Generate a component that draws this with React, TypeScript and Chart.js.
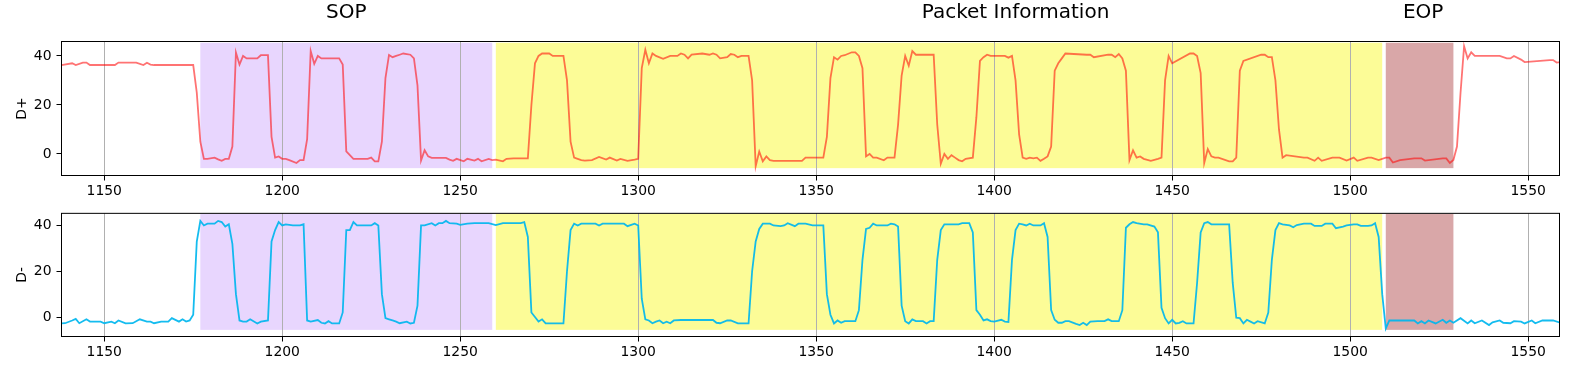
import React, { useEffect, useRef } from "react";
import { Chart, registerables } from "chart.js";
Chart.register(...registerables);

// ---- data ----
const dPlusX = [1138,1141,1142,1144,1145,1146,1153,1154,1159,1161,1162,1163,1164,1175,1176,1177,1178,1179,1181,1182,1183,1184,1185,1186,1187,1188,1189,1190,1193,1194,1196,1197,1198,1199,1200,1201,1202,1204,1205,1206,1207,1208,1209,1210,1211,1216,1217,1218,1219,1220,1224,1225,1226,1227,1228,1229,1230,1231,1232,1233,1234,1236,1237,1238,1239,1240,1241,1242,1246,1247,1248,1249,1251,1252,1254,1255,1256,1258,1259,1260,1262,1263,1265,1269,1270,1271,1272,1273,1275,1276,1279,1280,1281,1282,1283,1284,1285,1287,1289,1291,1292,1294,1295,1297,1299,1300,1301,1302,1303,1304,1305,1307,1309,1311,1312,1313,1314,1315,1318,1320,1321,1322,1323,1325,1326,1327,1328,1329,1331,1332,1333,1334,1335,1336,1337,1338,1346,1347,1352,1353,1354,1355,1356,1357,1358,1360,1361,1362,1363,1364,1365,1366,1367,1369,1370,1372,1373,1374,1375,1376,1377,1378,1383,1384,1385,1386,1387,1388,1389,1390,1391,1392,1394,1395,1396,1397,1398,1399,1403,1404,1405,1406,1407,1408,1409,1410,1411,1412,1413,1414,1415,1416,1417,1418,1419,1420,1426,1427,1428,1432,1433,1434,1435,1436,1437,1438,1439,1440,1441,1442,1444,1446,1447,1448,1449,1450,1455,1456,1457,1458,1459,1460,1461,1462,1463,1466,1467,1468,1469,1470,1475,1476,1477,1478,1479,1480,1481,1482,1487,1488,1490,1491,1492,1495,1497,1499,1501,1502,1505,1506,1508,1510,1511,1512,1514,1518,1520,1521,1526,1527,1528,1529,1530,1531,1532,1533,1534,1535,1541,1542,1544,1545,1546,1548,1549,1556,1557,1558,1559];
const dPlusY = [36.3,37,36.3,37.3,37.3,36.3,36.3,37.3,37.3,36.3,37.2,36.5,36.3,36.3,25,5,-2,-2,-1.5,-2.2,-2.8,-2,-2,3,41.4,36.5,40,39,39,40.3,40.3,7,-1.5,-1,-2,-2,-2.5,-3.7,-2.5,-2.5,6,42,36.8,40,39,39,36.5,1,-0.5,-2,-2,-1.5,-3,-3,5,31,40.4,39.5,40,40.5,41,40.5,39,28,-2.7,1.5,-1,-1.6,-1.6,-2.3,-2.8,-2,-3,-2,-2.7,-2,-3,-2,-2.5,-2.3,-3,-2,-1.8,-1.8,20,37,40,41,41,40,40,30,5,-1.5,-2,-2.5,-2.7,-2.5,-1.2,-2.3,-1.5,-2.7,-2,-2.8,-2.3,-2,35,42.5,37,41,40,38.8,40,40,41,40.5,39,40.5,41,40.5,41,40.5,39,39.5,40.8,40.5,39.5,40,40,30,-5,1,-3,-1,-2.5,-2.8,-2.8,-1.5,-1.5,7,31,39.5,38.5,40,40.3,41.5,41.5,40,35,-1,0,-1.5,-1.5,-2.6,-1.5,-1.5,12,32,40,36,42,40.5,40.5,12,-4,0,-2,-0.5,-1.5,-2.5,-3,-2,-1.5,15,38,39.5,40.5,40,40,39.3,40,30,8,-1.5,-2,-1.5,-1.8,-1.5,-2.8,-2,-1,3,34,37,39,41,40.5,40.5,39.5,40.5,40.5,39.5,40.8,39,34,-2.5,1.5,-1.5,-1,-2,-2.8,-2,-1.5,30,40,37,41,41,40,33,-3.7,2,-1,-1.5,-1.5,-3,-3,-1.5,34,38,40.5,40.5,39.5,39.5,30,10,-1.5,-0.5,-1.5,-1.5,-2.8,-1.5,-2.8,-1.5,-1.5,-2.7,-1.5,-2.8,-1.5,-1.5,-2.5,-1.5,-1.5,-3.5,-2.5,-1.8,-1.8,-2.7,-1.8,-1.8,-3.7,-2.5,3,25,44,39,41.5,40,40,40,39,39,40,38.5,37.5,38.3,38.3,37.3,37.5,38];

const dMinusX = [1138,1139,1141,1142,1143,1145,1146,1149,1150,1152,1153,1154,1156,1158,1160,1162,1163,1164,1166,1168,1169,1171,1172,1173,1174,1175,1176,1177,1178,1179,1181,1182,1183,1184,1185,1186,1187,1188,1189,1190,1191,1193,1194,1196,1197,1198,1199,1200,1201,1203,1205,1206,1207,1208,1210,1211,1212,1213,1214,1216,1217,1218,1219,1220,1221,1225,1226,1227,1228,1229,1230,1231,1232,1233,1235,1236,1237,1238,1239,1240,1242,1243,1244,1245,1246,1247,1249,1250,1252,1254,1258,1260,1262,1267,1268,1269,1270,1271,1272,1273,1274,1279,1280,1281,1282,1283,1284,1288,1289,1290,1296,1297,1299,1300,1301,1302,1303,1304,1305,1306,1307,1308,1309,1310,1312,1321,1322,1323,1325,1326,1328,1331,1332,1333,1334,1335,1337,1338,1340,1341,1342,1344,1345,1347,1349,1352,1353,1354,1355,1356,1357,1358,1361,1362,1363,1364,1365,1366,1367,1370,1371,1372,1373,1374,1375,1376,1377,1378,1380,1381,1382,1383,1384,1385,1386,1390,1391,1393,1394,1395,1396,1397,1398,1399,1400,1402,1403,1404,1405,1406,1407,1408,1409,1410,1411,1413,1414,1415,1416,1417,1418,1419,1420,1421,1423,1424,1425,1426,1427,1429,1431,1432,1433,1435,1436,1437,1438,1439,1440,1442,1443,1445,1446,1447,1448,1449,1450,1451,1452,1453,1454,1456,1457,1458,1459,1460,1461,1466,1467,1468,1469,1470,1471,1472,1473,1474,1476,1477,1478,1479,1480,1481,1483,1484,1485,1487,1489,1490,1492,1493,1495,1496,1498,1499,1501,1502,1503,1505,1506,1507,1508,1509,1510,1511,1518,1519,1520,1521,1522,1524,1526,1527,1528,1529,1531,1533,1534,1535,1537,1539,1540,1542,1543,1545,1546,1548,1549,1551,1552,1554,1557,1559];
const dMinusY = [-2.8,-2.7,-1.5,-0.8,-2.7,-1,-2,-2,-2.7,-2,-2.7,-1.5,-2.8,-2.7,-1,-2,-2,-2.7,-2,-2,-0.5,-2,-1,-2,-1.5,1,33,42,40,40.8,40.8,42,41.5,39.5,40.5,32,10,-1.5,-2,-2,-1,-2.8,-2,-1.5,33,38,41.5,40,40.5,40,40,40.5,-1.5,-2,-1.3,-2.5,-2.8,-1.8,-2.8,-2.8,2,38,38,41.5,40,40,41,40,10,-0.5,-1,-1.5,-2,-2.7,-2,-2.8,-2.5,5,40,40,41,40,41,41,42,41,40.8,40.3,40.8,41,41,40.2,41,41,41.5,35,2,0,-2,-1,-2.8,-2.8,20,38,40.8,40,40.8,40.8,40,40.8,40.8,39.7,40.8,40,8,-1,-1.5,-2.7,-2,-1.5,-2.7,-2,-2.7,-1.5,-1.3,-1.3,-2.5,-2.7,-1.5,-1.5,-2.8,-2.8,20,33,38.5,40.8,40.8,40,39.7,40,41,39.7,40.8,40.8,40,40,10,1,-2.8,-1.5,-2.5,-1.8,-1.8,3,25,38.5,39,40.8,40,40,40.8,40.5,39.5,5,-1.8,-2.8,-1,-1.8,-1.8,-2.8,-1.8,-1.8,25,38,40.5,40.5,41,41,37,3,1,-1.5,-1,-1.8,-2,-1.2,-2,-2.2,25,38,40.8,40.5,40,40.8,40,40,41,35,3,-1.2,-2.5,-2.5,-1.8,-1.8,-3,-3.5,-2.5,-3.5,-2,-1.8,-1.8,-1,-1.8,-1.8,3,39,40.5,41.5,41,40.5,40.5,39.5,37,4,-0.5,-2.8,-1.2,-2.8,-2.5,-1.8,-2.8,-2.8,15,37,41,41.5,40.5,40.5,15,-0.3,-0.5,-2.8,-1.2,-2,-2.8,-1.8,-2.8,2,25,38,41,40.5,40,39.2,40.2,40.8,40.8,39.8,39.8,40.8,40.8,38.8,39.5,40,40.5,40.5,39.8,39.8,40,41,35,10,-5,-1.5,-1.5,-2.8,-1.8,-2.8,-1.5,-2.8,-1.2,-2.5,-1.5,-2.5,-0.5,-2.8,-1.5,-2.7,-1.5,-3.5,-2.3,-1.5,-2.5,-2.7,-1.8,-2,-2.8,-1.5,-2.7,-1.5,-1.5,-2.5];

const xTicks = [1150, 1200, 1250, 1300, 1350, 1400, 1450, 1500, 1550];
const yTicks = [0, 20, 40];
const regionLabels = ["SOP", "Packet Information", "EOP"];
const regionStart = [1177, 1260, 1510];
const regionEnd = [1259, 1509, 1529];
const regionColors = ["#E8D6FE", "#FCFC97", "#D9A7A8"];
const titleX = [1218, 1406, 1520.5];

const X_MIN = 1138;
const X_MAX = 1558.8;
const FONT = "'DejaVu Sans', sans-serif";

type PanelProps = {
  xs: number[];
  ys: number[];
  color: string;
  label: string;
  yMin: number;
  yMax: number;
  fillMin: number;
  fillMax: number;
  top: number;
  height: number;
  padTop: number;
  xAxisH: number;
  showTitles: boolean;
};

function Panel(p: PanelProps) {
  const ref = useRef<HTMLCanvasElement>(null);
  useEffect(() => {
    const decor = {
      id: "decor",
      beforeDraw(chart: any) {
        const { ctx, scales } = chart;
        const xs = scales.x, ys = scales.y;
        ctx.save();
        for (let i = 0; i < regionStart.length; i++) {
          const x0 = xs.getPixelForValue(regionStart[i]);
          const x1 = xs.getPixelForValue(regionEnd[i]);
          const y0 = ys.getPixelForValue(p.fillMax);
          const y1 = ys.getPixelForValue(p.fillMin);
          ctx.fillStyle = regionColors[i];
          ctx.fillRect(x0, y0, x1 - x0, y1 - y0);
        }
        ctx.restore();
      },
      afterDraw(chart: any) {
        const { ctx, chartArea, scales } = chart;
        ctx.save();
        ctx.strokeStyle = "#000";
        ctx.lineWidth = 1;
        ctx.strokeRect(chartArea.left, chartArea.top, chartArea.right - chartArea.left, chartArea.bottom - chartArea.top);
        // y label
        ctx.fillStyle = "#000";
        ctx.font = `13.9px ${FONT}`;
        ctx.translate(22, (chartArea.top + chartArea.bottom) / 2);
        ctx.rotate(-Math.PI / 2);
        ctx.textAlign = "center";
        ctx.textBaseline = "middle";
        ctx.fillText(p.label, 0, 0);
        ctx.restore();
        if (p.showTitles) {
          ctx.save();
          ctx.fillStyle = "#000";
          ctx.font = `20px ${FONT}`;
          ctx.textAlign = "center";
          ctx.textBaseline = "alphabetic";
          for (let i = 0; i < regionLabels.length; i++) {
            ctx.fillText(regionLabels[i], scales.x.getPixelForValue(titleX[i]), 17.5);
          }
          ctx.restore();
        }
      },
    };
    const chart = new Chart(ref.current as HTMLCanvasElement, {
      type: "line",
      data: {
        datasets: [
          {
            data: p.xs.map((x, i) => ({ x, y: p.ys[i] })),
            borderColor: p.color,
            borderWidth: 1.8,
            pointRadius: 0,
            tension: 0,
            fill: false,
          },
        ],
      },
      options: {
        animation: false,
        responsive: false,
        maintainAspectRatio: false,
        devicePixelRatio: 1,
        events: [],
        layout: { padding: { left: 0, right: 10.5, top: p.padTop, bottom: 0 } },
        plugins: { legend: { display: false }, tooltip: { enabled: false }, title: { display: false } },
        scales: {
          x: {
            type: "linear",
            min: X_MIN,
            max: X_MAX,
            afterBuildTicks: (s: any) => {
              s.ticks = xTicks.map((v) => ({ value: v }));
            },
            afterFit: (s: any) => {
              s.height = p.xAxisH;
            },
            grid: { color: "#b0b0b0", lineWidth: 1, tickColor: "#000", tickLength: 5, drawOnChartArea: true },
            border: { display: false },
            ticks: {
              color: "#000",
              font: { family: FONT, size: 13.9 },
              padding: 3,
              maxRotation: 0,
              autoSkip: false,
              callback: (v: any) => String(v),
            },
          },
          y: {
            type: "linear",
            min: p.yMin,
            max: p.yMax,
            afterBuildTicks: (s: any) => {
              s.ticks = yTicks.map((v) => ({ value: v }));
            },
            afterFit: (s: any) => {
              s.width = 61.5;
            },
            grid: { color: "rgba(0,0,0,0)", tickColor: "#000", tickLength: 5, drawOnChartArea: false },
            border: { display: false },
            ticks: {
              color: "#000",
              font: { family: FONT, size: 13.9 },
              padding: 5,
              callback: (v: any) => String(v),
            },
          },
        },
      },
      plugins: [decor],
    } as any);
    return () => chart.destroy();
  }, []);
  return (
    <canvas
      ref={ref}
      width={1570}
      height={p.height}
      style={{ position: "absolute", left: 0, top: p.top, width: 1570, height: p.height }}
    />
  );
}

export default function App() {
  return (
    <div style={{ position: "fixed", left: 0, top: 0, width: 1570, height: 365, background: "#fff" }}>
      <Panel
        xs={dPlusX}
        ys={dPlusY}
        color="rgba(255,0,0,0.55)"
        label="D+"
        yMin={-8.8}
        yMax={45.9}
        fillMin={-5.8}
        fillMax={45.4}
        top={0}
        height={200}
        padTop={41.5}
        xAxisH={24.5}
        showTitles={true}
      />
      <Panel
        xs={dMinusX}
        ys={dMinusY}
        color="rgba(0,182,238,0.92)"
        label="D-"
        yMin={-8.5}
        yMax={45.3}
        fillMin={-5.6}
        fillMax={45}
        top={200}
        height={165}
        padTop={2.5}
        xAxisH={28.5}
        showTitles={false}
      />
    </div>
  );
}
